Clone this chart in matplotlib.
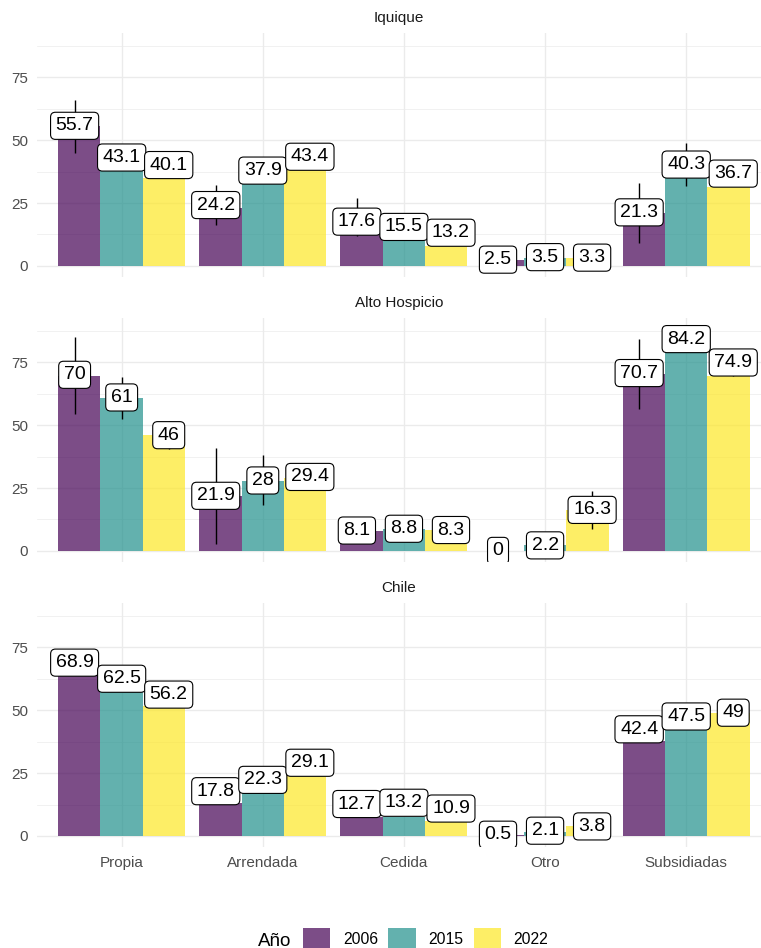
import numpy as np
import matplotlib.pyplot as plt
from matplotlib.patches import Patch
from matplotlib.ticker import MultipleLocator

plt.rcParams['font.family'] = ['Liberation Sans', 'DejaVu Sans']

# datos
zonas = ['Iquique', 'Alto Hospicio', 'Chile']
categorias = ['Propia', 'Arrendada', 'Cedida', 'Otro', 'Subsidiadas']
anios = ['2006', '2015', '2022']
colores = ['#440154', '#21908C', '#FDE725']

# etiquetas (valor mostrado) por año
etiq_iquique = [[55.7, 24.2, 17.6, 2.5, 21.3],
                [43.1, 37.9, 15.5, 3.5, 40.3],
                [40.1, 43.4, 13.2, 3.3, 36.7]]
etiq_alto = [[70, 21.9, 8.1, 0, 70.7],
             [61, 28, 8.8, 2.2, 84.2],
             [46, 29.4, 8.3, 16.3, 74.9]]
etiq_chile = [[68.9, 17.8, 12.7, 0.5, 42.4],
              [62.5, 22.3, 13.2, 2.1, 47.5],
              [56.2, 29.1, 10.9, 3.8, 49]]

# altura de las barras
barra_iquique = [[55.6, 22.9, 15.6, 2.3, 20.9],
                 [38.1, 33.5, 10.0, 3.2, 35.5],
                 [34.8, 38.4, 8.0, 3.2, 31.5]]
barra_alto = [[69.7, 21.9, 8.1, 0, 70.4],
              [60.8, 27.9, 8.7, 2.4, 79.4],
              [46.0, 28.8, 8.3, 16.2, 69.7]]
barra_chile = [[64.6, 13.0, 7.7, 0.2, 37.6],
               [57.6, 17.0, 7.6, 1.5, 42.5],
               [51.6, 24.3, 5.9, 3.9, 48.9]]

# intervalos (nan = sin intervalo)
nan = np.nan
lo_iquique = [[45.0, 16.3, 11.9, nan, 9.2],
              [nan, nan, nan, nan, 31.6],
              [nan, nan, nan, nan, nan]]
hi_iquique = [[65.9, 32.1, 26.9, nan, 33.1],
              [nan, nan, nan, nan, 48.8],
              [nan, nan, nan, nan, nan]]
lo_alto = [[54.3, 2.8, nan, nan, 56.5],
           [52.6, 18.2, nan, nan, nan],
           [40.5, nan, nan, 8.6, 69.4]]
hi_alto = [[85.2, 40.9, nan, nan, 84.3],
           [69.1, 38.0, nan, nan, nan],
           [51.5, nan, nan, 23.8, 80.4]]
lo_chile = [[nan] * 5 for _ in range(3)]
hi_chile = [[nan] * 5 for _ in range(3)]

etiquetas = [etiq_iquique, etiq_alto, etiq_chile]
barras = [barra_iquique, barra_alto, barra_chile]
los = [lo_iquique, lo_alto, lo_chile]
his = [hi_iquique, hi_alto, hi_chile]

fig = plt.figure(figsize=(7.61, 9.48), dpi=100)
posiciones = [[0.0486, 0.7078, 0.9514, 0.2574],
              [0.0486, 0.4072, 0.9514, 0.2574],
              [0.0486, 0.1065, 0.9514, 0.2574]]
x = np.arange(1, len(categorias) + 1)

for i, zona in enumerate(zonas):
    ax = fig.add_axes(posiciones[i])
    for j in range(len(anios)):
        ax.bar(x + (j - 1) * 0.3, barras[i][j], width=0.3, color=colores[j],
               alpha=0.7, zorder=2, linewidth=0)
        xl = x + (j - 1) / 3
        ax.vlines(xl, los[i][j], his[i][j], color='black', linewidth=1.0, zorder=3)
        for k in range(len(categorias)):
            v = etiquetas[i][j][k]
            ax.text(xl[k], v, f'{v:g}', ha='center', va='center', fontsize=14,
                    color='black', zorder=4, clip_on=True,
                    bbox=dict(boxstyle='round,pad=0.26,rounding_size=0.25',
                              facecolor='white', edgecolor='black', linewidth=0.8))
    ax.set_xlim(0.4, 5.53)
    ax.set_ylim(-4.4, 92.6)
    ax.yaxis.set_major_locator(MultipleLocator(25))
    ax.yaxis.set_minor_locator(MultipleLocator(12.5))
    ax.set_xticks(x)
    if i == 2:
        ax.set_xticklabels(categorias)
    else:
        ax.set_xticklabels([])
    ax.grid(which='major', color='#EBEBEB', linewidth=0.95, zorder=0)
    ax.grid(which='minor', axis='y', color='#EBEBEB', linewidth=0.5, zorder=0)
    ax.set_axisbelow(True)
    for s in ax.spines.values():
        s.set_visible(False)
    ax.tick_params(which='both', length=0, labelsize=11, colors='#4D4D4D', pad=6.5)
    ax.text(0.5, 1.062, zona, transform=ax.transAxes, ha='center', va='center',
            fontsize=11, color='#1A1A1A')

handles = [Patch(facecolor=c, alpha=0.7, edgecolor='none') for c in colores]
fig.legend(handles, anios, loc='center left', bbox_to_anchor=(303 / 761, 1 - 939 / 948),
           ncol=3, frameon=False, fontsize=11.3, handlelength=1.75, handleheight=1.75,
           handletextpad=0.8, columnspacing=0.65, borderpad=0, borderaxespad=0)
fig.text(258 / 761, 1 - 941 / 948, 'Año', ha='left', va='center', fontsize=13.5,
         color='black')

fig.savefig('out.png', dpi=100)
